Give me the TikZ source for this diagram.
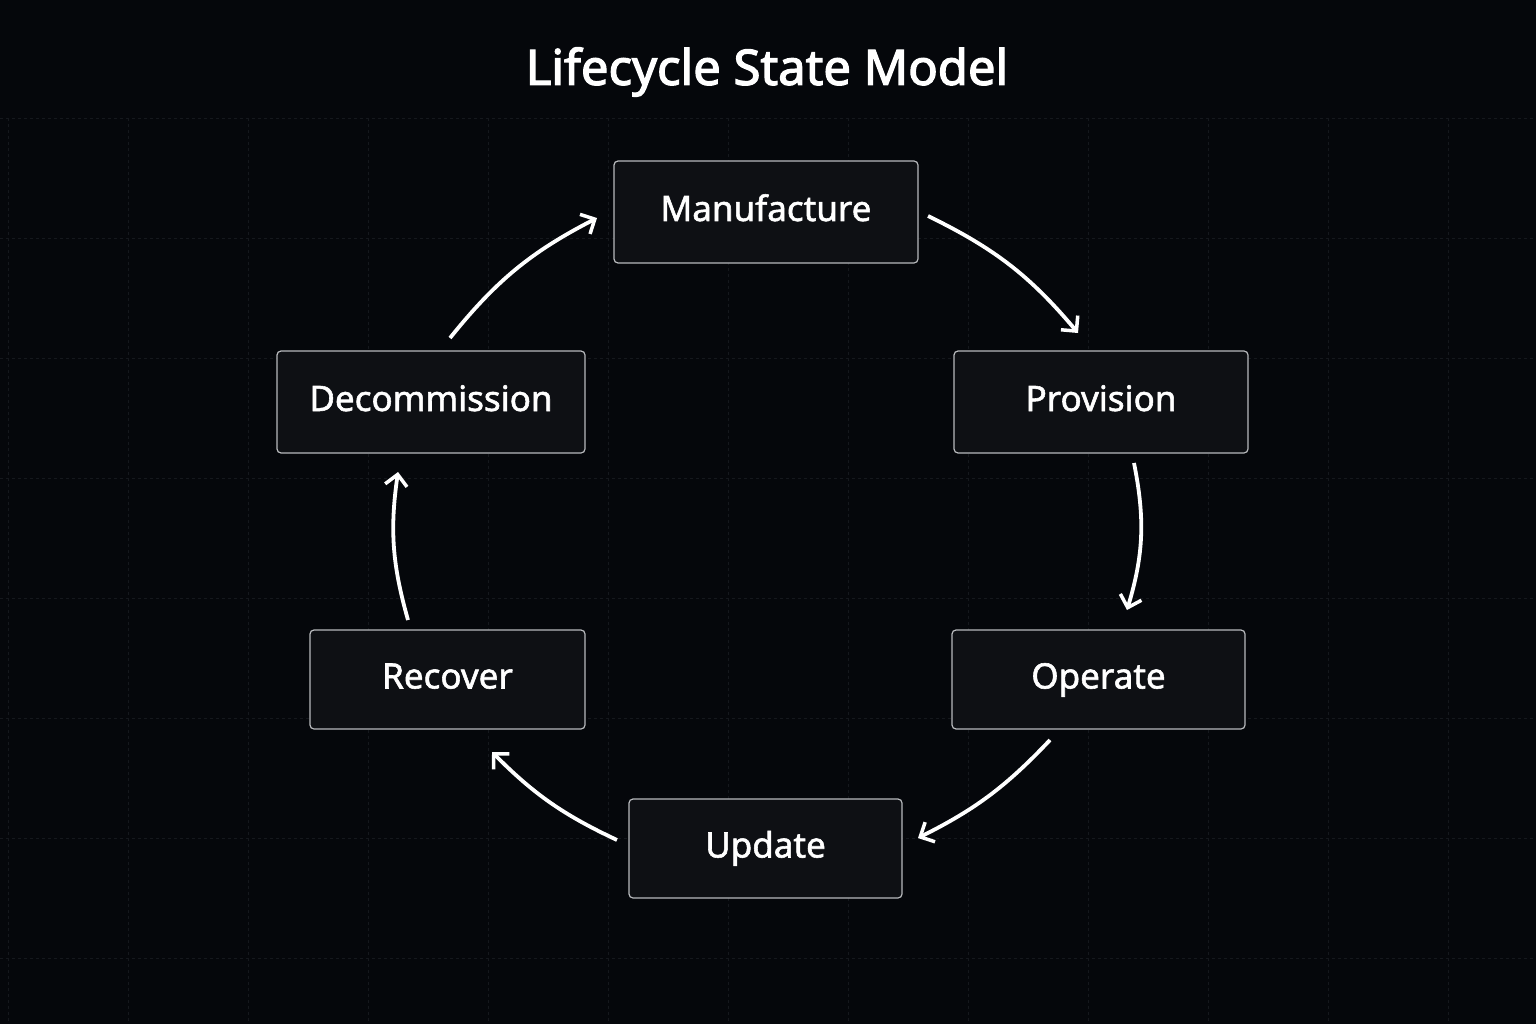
\documentclass[tikz,border=0pt]{standalone}
\usepackage{fontspec}
\setmainfont{Noto Sans}
\newfontfamily\semib{Noto Sans}[FakeBold=1.6]
\newfontfamily\titlef{Noto Sans}[FakeBold=2.5]
\usetikzlibrary{arrows.meta}
\definecolor{bg}{HTML}{05070B}
\definecolor{boxfill}{HTML}{0E1014}
\definecolor{boxline}{HTML}{B8BABD}
\definecolor{gridc}{HTML}{15181D}
\begin{document}
\begin{tikzpicture}[x=1pt,y=-1pt,
  st/.style={draw=boxline,line width=1.2pt,fill=boxfill,rounded corners=4pt,text=white,font=\semib\fontsize{35}{40}\selectfont,inner sep=0pt,text height=25pt,text depth=7pt},
  arr/.style={white,line width=3.8pt,-{Straight Barb[length=11pt,width=22pt,line width=3.5pt]}}]
\useasboundingbox (0,0) rectangle (1536,1024);
\fill[bg] (0,0) rectangle (1536,1024);
\foreach \y in {118,238,358,478,598,718,838,958}
  \draw[gridc,dashed,line width=0.8pt] (0,\y) -- (1536,\y);
\foreach \x in {8,128,248,368,488,608,728,848,968,1088,1208,1328,1448}
  \draw[gridc,dashed,line width=0.8pt] (\x,118) -- (\x,1024);
\node[text=white,font=\titlef\fontsize{49}{56}\selectfont] (title) at (767,72) {Lifecycle State Model};
\node[st,minimum width=304pt,minimum height=102pt] (man) at (766,212) {Manufacture};
\node[st,minimum width=294pt,minimum height=102pt] (pro) at (1101,402) {Provision};
\node[st,minimum width=293pt,minimum height=99pt] (ope) at (1098.5,679.5) {Operate};
\node[st,minimum width=273pt,minimum height=99pt] (upd) at (765.5,848.5) {Update};
\node[st,minimum width=275pt,minimum height=99pt] (rec) at (447.5,679.5) {Recover};
\node[st,minimum width=308pt,minimum height=102pt] (dec) at (431,402) {Decommission};
\coordinate (a1) at (928,216); \coordinate (b1) at (1078,333);
\coordinate (a2) at (1134,463); \coordinate (b2) at (1127,610);
\coordinate (a3) at (1050,740); \coordinate (b3) at (918,838);
\coordinate (a4) at (617,840); \coordinate (b4) at (492,752);
\coordinate (a5) at (408,620); \coordinate (b5) at (398,472);
\coordinate (a6) at (450,338); \coordinate (b6) at (597,218);
\draw[arr] (a1) to[bend left=12] (b1);
\draw[arr] (a2) to[bend left=14] (b2);
\draw[arr] (a3) to[bend left=10] (b3);
\draw[arr] (a4) to[bend left=10] (b4);
\draw[arr] (a5) to[bend left=12] (b5);
\draw[arr] (a6) to[bend left=12] (b6);
\end{tikzpicture}
\end{document}
